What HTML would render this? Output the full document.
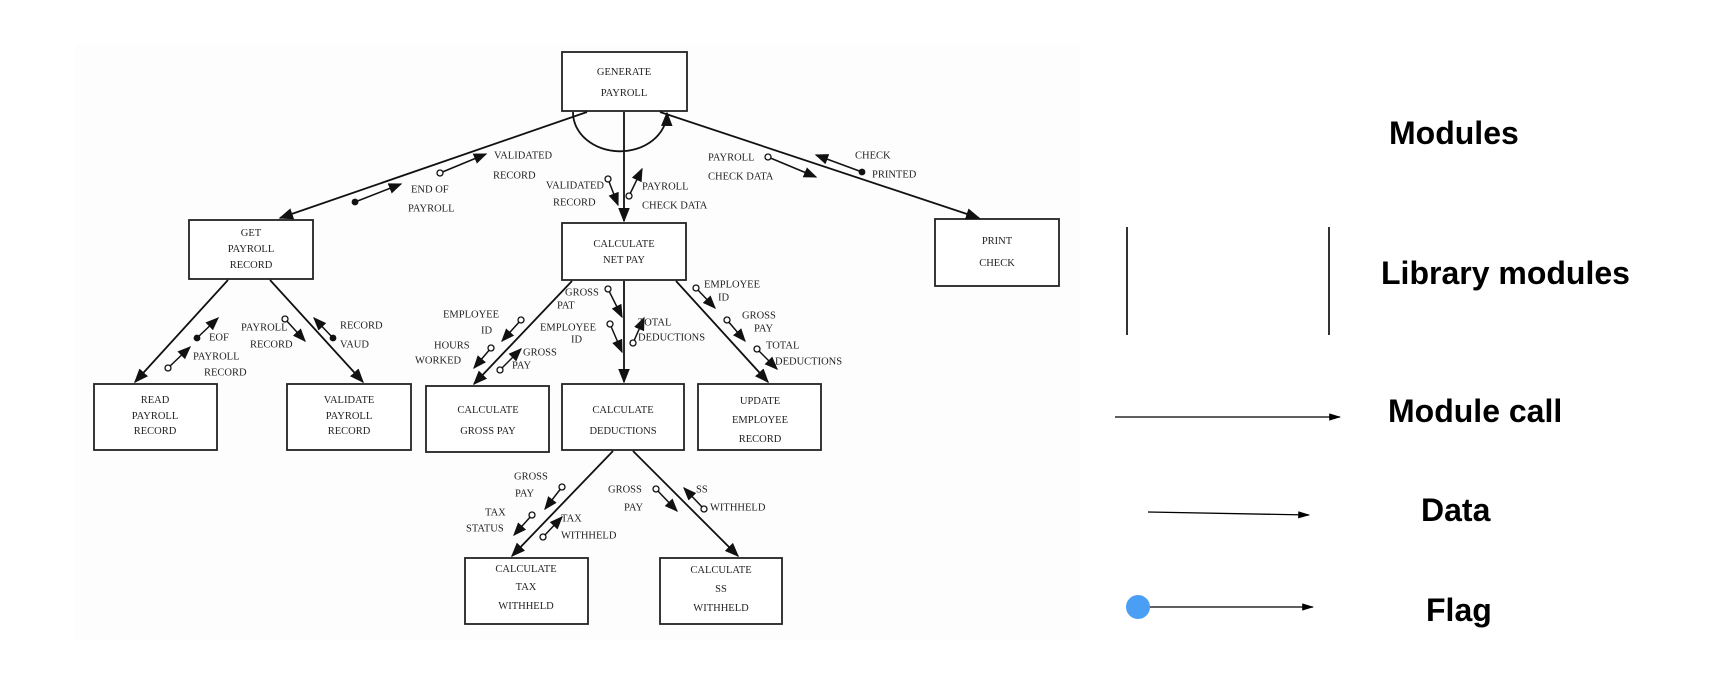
<!DOCTYPE html>
<html><head><meta charset="utf-8"><style>
html,body{margin:0;padding:0;background:#fff;}
svg{display:block;}
.t{font-family:"Liberation Serif",serif;font-size:10.5px;fill:#222;}
.c{text-anchor:middle;}
.lg{font-family:"Liberation Sans",sans-serif;font-weight:bold;font-size:32px;fill:#000;}
</style></head><body>
<svg width="1726" height="678" viewBox="0 0 1726 678" xmlns="http://www.w3.org/2000/svg">
<defs>
<marker id="a" viewBox="0 0 10 10" refX="9" refY="5" markerWidth="8" markerHeight="8" orient="auto" markerUnits="strokeWidth"><path d="M0,1L10,5L0,9z" fill="#111"/></marker>
<marker id="d" viewBox="0 0 10 10" refX="9" refY="5" markerWidth="9" markerHeight="9" orient="auto" markerUnits="strokeWidth"><path d="M0,1L10,5L0,9z" fill="#111"/></marker>
<marker id="l" viewBox="0 0 10 10" refX="9" refY="5" markerWidth="12" markerHeight="12" orient="auto" markerUnits="userSpaceOnUse"><path d="M0,2L10,5L0,8z" fill="#000"/></marker>
</defs>
<rect x="75" y="45" width="1005" height="595" fill="#fdfdfd"/>
<g fill="#fff" stroke="#222" stroke-width="1.8">
<rect x="562" y="52" width="125" height="59"/>
<rect x="189" y="220" width="124" height="59"/>
<rect x="562" y="223" width="124" height="57"/>
<rect x="935" y="219" width="124" height="67"/>
<rect x="94" y="384" width="123" height="66"/>
<rect x="287" y="384" width="124" height="66"/>
<rect x="426" y="386" width="123" height="66"/>
<rect x="562" y="384" width="122" height="66"/>
<rect x="698" y="384" width="123" height="66"/>
<rect x="465" y="558" width="123" height="66"/>
<rect x="660" y="558" width="122" height="66"/>
</g>
<g class="t c">
<text x="624" y="75">GENERATE</text><text x="624" y="96">PAYROLL</text>
<text x="251" y="236">GET</text><text x="251" y="252">PAYROLL</text><text x="251" y="268">RECORD</text>
<text x="624" y="247">CALCULATE</text><text x="624" y="263">NET PAY</text>
<text x="997" y="244">PRINT</text><text x="997" y="266">CHECK</text>
<text x="155" y="403">READ</text><text x="155" y="419">PAYROLL</text><text x="155" y="434">RECORD</text>
<text x="349" y="403">VALIDATE</text><text x="349" y="419">PAYROLL</text><text x="349" y="434">RECORD</text>
<text x="488" y="413">CALCULATE</text><text x="488" y="434">GROSS PAY</text>
<text x="623" y="413">CALCULATE</text><text x="623" y="434">DEDUCTIONS</text>
<text x="760" y="404">UPDATE</text><text x="760" y="423">EMPLOYEE</text><text x="760" y="442">RECORD</text>
<text x="526" y="572">CALCULATE</text><text x="526" y="590">TAX</text><text x="526" y="609">WITHHELD</text>
<text x="721" y="573">CALCULATE</text><text x="721" y="592">SS</text><text x="721" y="611">WITHHELD</text>
</g>
<g stroke="#111" stroke-width="1.8" fill="none" marker-end="url(#a)">
<line x1="587" y1="112" x2="280" y2="218"/>
<line x1="624" y1="112" x2="624" y2="221"/>
<line x1="660" y1="112" x2="979" y2="218"/>
<line x1="228" y1="280" x2="135" y2="382"/>
<line x1="270" y1="280" x2="363" y2="382"/>
<line x1="572" y1="281" x2="474" y2="384"/>
<line x1="624" y1="281" x2="624" y2="382"/>
<line x1="676" y1="281" x2="768" y2="382"/>
<line x1="613" y1="451" x2="512" y2="556"/>
<line x1="633" y1="451" x2="738" y2="556"/>
<path d="M573,112 A46,38 0 0 0 667,113"/>
</g>
<g stroke="#111" stroke-width="1.5" marker-end="url(#d)">
<line x1="355" y1="202" x2="401" y2="184"/>
<line x1="440" y1="173" x2="486" y2="154"/>
<line x1="608" y1="179" x2="618" y2="205"/>
<line x1="629" y1="196" x2="642" y2="169"/>
<line x1="768" y1="157" x2="816" y2="177"/>
<line x1="862" y1="172" x2="816" y2="155"/>
<line x1="197" y1="338" x2="218" y2="318"/>
<line x1="168" y1="368" x2="190" y2="347"/>
<line x1="285" y1="319" x2="305" y2="341"/>
<line x1="333" y1="338" x2="314" y2="318"/>
<line x1="521" y1="320" x2="502" y2="341"/>
<line x1="491" y1="348" x2="474" y2="368"/>
<line x1="500" y1="370" x2="521" y2="349"/>
<line x1="608" y1="289" x2="622" y2="317"/>
<line x1="610" y1="324" x2="622" y2="352"/>
<line x1="633" y1="343" x2="644" y2="318"/>
<line x1="696" y1="288" x2="715" y2="308"/>
<line x1="727" y1="320" x2="745" y2="341"/>
<line x1="757" y1="349" x2="777" y2="369"/>
<line x1="562" y1="487" x2="545" y2="509"/>
<line x1="532" y1="515" x2="514" y2="535"/>
<line x1="543" y1="537" x2="562" y2="517"/>
<line x1="656" y1="489" x2="677" y2="511"/>
<line x1="704" y1="509" x2="684" y2="488"/>
</g>
<g fill="#fff" stroke="#111" stroke-width="1.3">
<circle cx="440" cy="173" r="3"/><circle cx="608" cy="179" r="3"/><circle cx="629" cy="196" r="3"/>
<circle cx="768" cy="157" r="3"/><circle cx="168" cy="368" r="3"/><circle cx="285" cy="319" r="3"/>
<circle cx="521" cy="320" r="3"/><circle cx="491" cy="348" r="3"/><circle cx="500" cy="370" r="3"/>
<circle cx="608" cy="289" r="3"/><circle cx="610" cy="324" r="3"/><circle cx="633" cy="343" r="3"/>
<circle cx="696" cy="288" r="3"/><circle cx="727" cy="320" r="3"/><circle cx="757" cy="349" r="3"/>
<circle cx="562" cy="487" r="3"/><circle cx="532" cy="515" r="3"/><circle cx="543" cy="537" r="3"/>
<circle cx="656" cy="489" r="3"/><circle cx="704" cy="509" r="3"/>
</g>
<g fill="#111">
<circle cx="355" cy="202" r="3.4"/><circle cx="862" cy="172" r="3.4"/><circle cx="197" cy="338" r="3.4"/><circle cx="333" cy="338" r="3.4"/>
</g>
<g class="t" dominant-baseline="central">
<text x="411" y="190">END OF</text><text x="408" y="209">PAYROLL</text>
<text x="494" y="156">VALIDATED</text><text x="493" y="176">RECORD</text>
<text x="604" y="186" text-anchor="end">VALIDATED</text><text x="553" y="203">RECORD</text>
<text x="642" y="187">PAYROLL</text><text x="642" y="206">CHECK DATA</text>
<text x="708" y="158">PAYROLL</text><text x="708" y="177">CHECK DATA</text>
<text x="855" y="156">CHECK</text><text x="872" y="175">PRINTED</text>
<text x="209" y="338">EOF</text><text x="193" y="357">PAYROLL</text><text x="204" y="373">RECORD</text>
<text x="241" y="328">PAYROLL</text><text x="250" y="345">RECORD</text>
<text x="340" y="326">RECORD</text><text x="340" y="345">VAUD</text>
<text x="443" y="315">EMPLOYEE</text><text x="481" y="331">ID</text>
<text x="434" y="346">HOURS</text><text x="415" y="361">WORKED</text>
<text x="523" y="353">GROSS</text><text x="512" y="366">PAY</text>
<text x="565" y="293">GROSS</text><text x="557" y="306">PAT</text>
<text x="540" y="328">EMPLOYEE</text><text x="571" y="340">ID</text>
<text x="638" y="323">TOTAL</text><text x="638" y="338">DEDUCTIONS</text>
<text x="704" y="285">EMPLOYEE</text><text x="718" y="298">ID</text>
<text x="742" y="316">GROSS</text><text x="754" y="329">PAY</text>
<text x="766" y="346">TOTAL</text><text x="775" y="362">DEDUCTIONS</text>
<text x="514" y="477">GROSS</text><text x="515" y="494">PAY</text>
<text x="485" y="513">TAX</text><text x="466" y="529">STATUS</text>
<text x="561" y="519">TAX</text><text x="561" y="536">WITHHELD</text>
<text x="608" y="490">GROSS</text><text x="624" y="508">PAY</text>
<text x="696" y="490">SS</text><text x="710" y="508">WITHHELD</text>
</g>
<g class="lg" dominant-baseline="central">
<text x="1389" y="133">Modules</text>
<text x="1381" y="273">Library modules</text>
<text x="1388" y="411">Module call</text>
<text x="1421" y="510">Data</text>
<text x="1426" y="610">Flag</text>
</g>
<line x1="1127" y1="227" x2="1127" y2="335" stroke="#000" stroke-width="1.6"/>
<line x1="1329" y1="227" x2="1329" y2="335" stroke="#000" stroke-width="1.6"/>
<line x1="1115" y1="417" x2="1340" y2="417" stroke="#000" stroke-width="1.3" marker-end="url(#l)"/>
<line x1="1148" y1="512" x2="1309" y2="515" stroke="#000" stroke-width="1.3" marker-end="url(#l)"/>
<line x1="1140" y1="607" x2="1313" y2="607" stroke="#000" stroke-width="1.3" marker-end="url(#l)"/>
<circle cx="1138" cy="607" r="12" fill="#4a9ff5"/>
</svg>
</body></html>
